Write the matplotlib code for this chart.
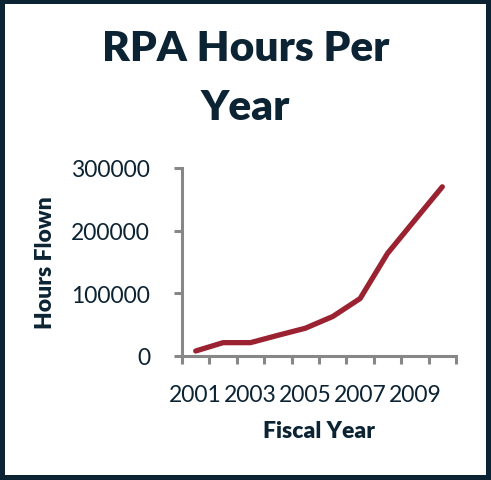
import matplotlib
matplotlib.use('Agg')
import matplotlib.pyplot as plt
import numpy as np

# RPA hours flown per fiscal year
years = ['2001', '2002', '2003', '2004', '2005', '2006', '2007', '2008', '2009', '2010']
hours = [8000, 21300, 21300, 33000, 44300, 63000, 91700, 163700, 217000, 270000]
yticks = [0, 100000, 200000, 300000]

navy = '#0b2333'
axcol = '#878787'
linecol = '#9b2331'

plt.rcParams['font.family'] = ['Lato', 'DejaVu Sans']

fig = plt.figure(figsize=(4.91, 4.81), dpi=100)
fig.patch.set_facecolor('white')
fig.patch.set_edgecolor(navy)
fig.patch.set_linewidth(7)

ax = fig.add_axes([182/491, 1-357/481, (456-182)/491, (357-169)/481])
pos = np.arange(len(years)) + 0.5
ax.plot(pos, hours, color=linecol, lw=3.8, solid_capstyle='round', clip_on=False)

ax.set_xlim(0, len(years))
ax.set_ylim(0, 300000)
ax.set_yticks(yticks)
ax.set_yticklabels([str(v) for v in yticks])
# tick marks between categories, labels on every other year
ax.set_xticks(np.arange(len(years)+1))
ax.set_xticklabels([])
ax.set_xticks(pos[::2], minor=True)
ax.set_xticklabels(years[::2], minor=True)
ax.tick_params(axis='x', which='minor', length=0, pad=20, labelsize=16.5, labelcolor=navy)
ax.tick_params(axis='x', which='major', length=6, width=2.2, color=axcol, direction='out')
ax.tick_params(axis='y', length=6, width=2.2, color=axcol, pad=17, labelsize=16.5, labelcolor=navy)

for s in ['top', 'right']:
    ax.spines[s].set_visible(False)
for s in ['left', 'bottom']:
    ax.spines[s].set_color(axcol)
    ax.spines[s].set_linewidth(2.2)

fig.text(0.5, 1-49/481, 'RPA Hours Per', ha='center', va='center', fontsize=30.5,
         fontweight='heavy', color=navy)
fig.text(0.5, 1-108/481, 'Year', ha='center', va='center', fontsize=30.5,
         fontweight='heavy', color=navy)
fig.text(45/491, 1-263/481, 'Hours Flown', rotation=90, ha='center', va='center',
         fontsize=16.5, fontweight='heavy', color=navy)
fig.text(319/491, 1-432/481, 'Fiscal Year', ha='center', va='center',
         fontsize=16.5, fontweight='heavy', color=navy)

fig.savefig('out.png', dpi=100, facecolor=fig.get_facecolor(), edgecolor=fig.get_edgecolor())
